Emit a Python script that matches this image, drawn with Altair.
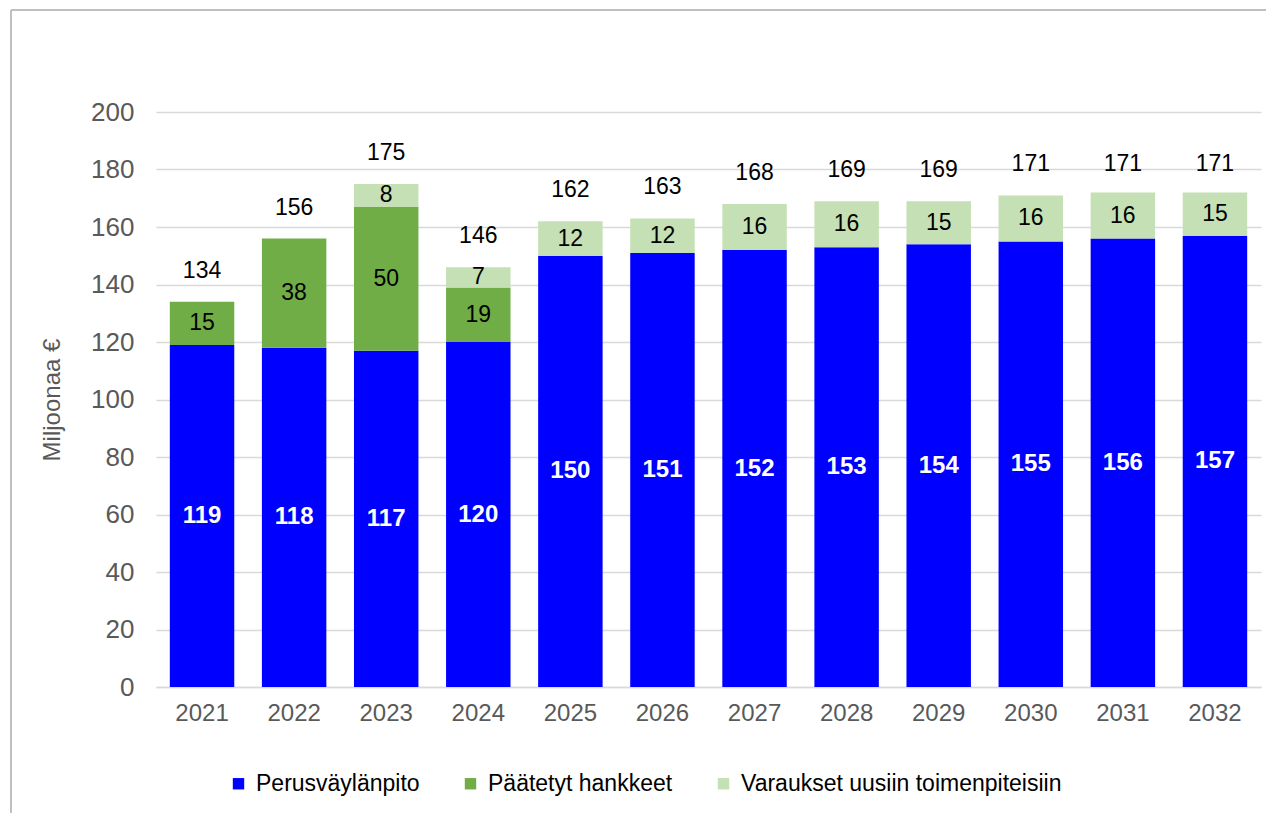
import altair as alt
import pandas as pd

years = ["2021", "2022", "2023", "2024", "2025", "2026", "2027", "2028", "2029", "2030", "2031", "2032"]
perus = [119, 118, 117, 120, 150, 151, 152, 153, 154, 155, 156, 157]
paatetyt = [15, 38, 50, 19, 0, 0, 0, 0, 0, 0, 0, 0]
varaukset = [0, 0, 8, 7, 12, 12, 16, 16, 15, 16, 16, 15]
totals = [134, 156, 175, 146, 162, 163, 168, 169, 169, 171, 171, 171]

series = ["Perusväylänpito", "Päätetyt hankkeet", "Varaukset uusiin toimenpiteisiin"]
colors = ["#0000FF", "#70AD47", "#C5E0B4"]

rows = []
for i, y in enumerate(years):
    for k, (name, vals) in enumerate(zip(series, [perus, paatetyt, varaukset])):
        rows.append({"year": y, "series": name, "value": vals[i], "order": k})
df = pd.DataFrame(rows)
tot = pd.DataFrame({"year": years, "total": totals})

FONT = "Liberation Sans"

x = alt.X("year:N", title=None, sort=years,
          scale=alt.Scale(paddingInner=0.3, paddingOuter=0.15),
          axis=alt.Axis(labelAngle=0, labelFontSize=24, labelColor="#595959", labelFont=FONT,
                        ticks=False, domainColor="#D9D9D9", domainWidth=1.5, labelPadding=14,
                        grid=False))

base = alt.Chart(df)

bars = base.mark_bar().encode(
    x=x,
    y=alt.Y("sum(value):Q", stack="zero",
            scale=alt.Scale(domain=[0, 200]),
            title="Miljoonaa €",
            axis=alt.Axis(values=list(range(0, 201, 20)), labelFontSize=26, labelColor="#595959",
                          labelFont=FONT, ticks=False, domain=False, gridColor="#D9D9D9",
                          gridWidth=1.5, labelPadding=22, titleFontSize=24, titleColor="#595959",
                          titleFont=FONT, titleFontWeight="normal", titlePadding=26)),
    color=alt.Color("series:N", sort=series,
                    scale=alt.Scale(domain=series, range=colors),
                    legend=alt.Legend(title=None, orient="none", direction="horizontal",
                                      legendX=71, legendY=660, symbolType="square",
                                      symbolSize=130, symbolStrokeWidth=0, labelFontSize=23,
                                      labelFont=FONT, labelColor="#000000", columnPadding=39,
                                      labelOffset=6, labelLimit=400)),
    order=alt.Order("order:Q"),
)

seg = base.transform_filter("datum.value > 0").transform_stack(
    stack="value", groupby=["year"], as_=["v0", "v1"], sort=[alt.SortField("order")]
).transform_calculate(mid="(datum.v0 + datum.v1) / 2")

lab_blue = seg.transform_filter("datum.order == 0").mark_text(
    fontSize=24, font=FONT, fontWeight="bold", color="white", baseline="middle"
).encode(x=alt.X("year:N", sort=years), y=alt.Y("mid:Q"), text="value:Q")

lab_other = seg.transform_filter("datum.order > 0").mark_text(
    fontSize=23, font=FONT, color="black", baseline="middle"
).encode(x=alt.X("year:N", sort=years), y=alt.Y("mid:Q"), text="value:Q")

lab_tot = alt.Chart(tot).mark_text(
    fontSize=23, font=FONT, color="black", baseline="middle", dy=-31
).encode(x=alt.X("year:N", sort=years), y=alt.Y("total:Q"), text="total:Q")

frame_left = alt.Chart(tot).mark_rule(color="#BFBFBF", strokeWidth=1).encode(
    x=alt.value(-145), y=alt.value(-102), y2=alt.value(720))
frame_top = alt.Chart(tot).mark_rule(color="#BFBFBF", strokeWidth=1).encode(
    x=alt.value(-145), x2=alt.value(1130), y=alt.value(-102))

chart = alt.layer(bars, lab_blue, lab_other, lab_tot, frame_left, frame_top).properties(
    width=1105, height=575,
    background="white",
    autosize=alt.AutoSizeParams(type="none"),
    padding={"left": 148, "top": 104, "right": 5, "bottom": 126},
).configure_view(strokeWidth=0, stroke="transparent").configure_axisY(domain=False)

chart.save("out.html", embed_options={"renderer": "svg", "actions": False})
